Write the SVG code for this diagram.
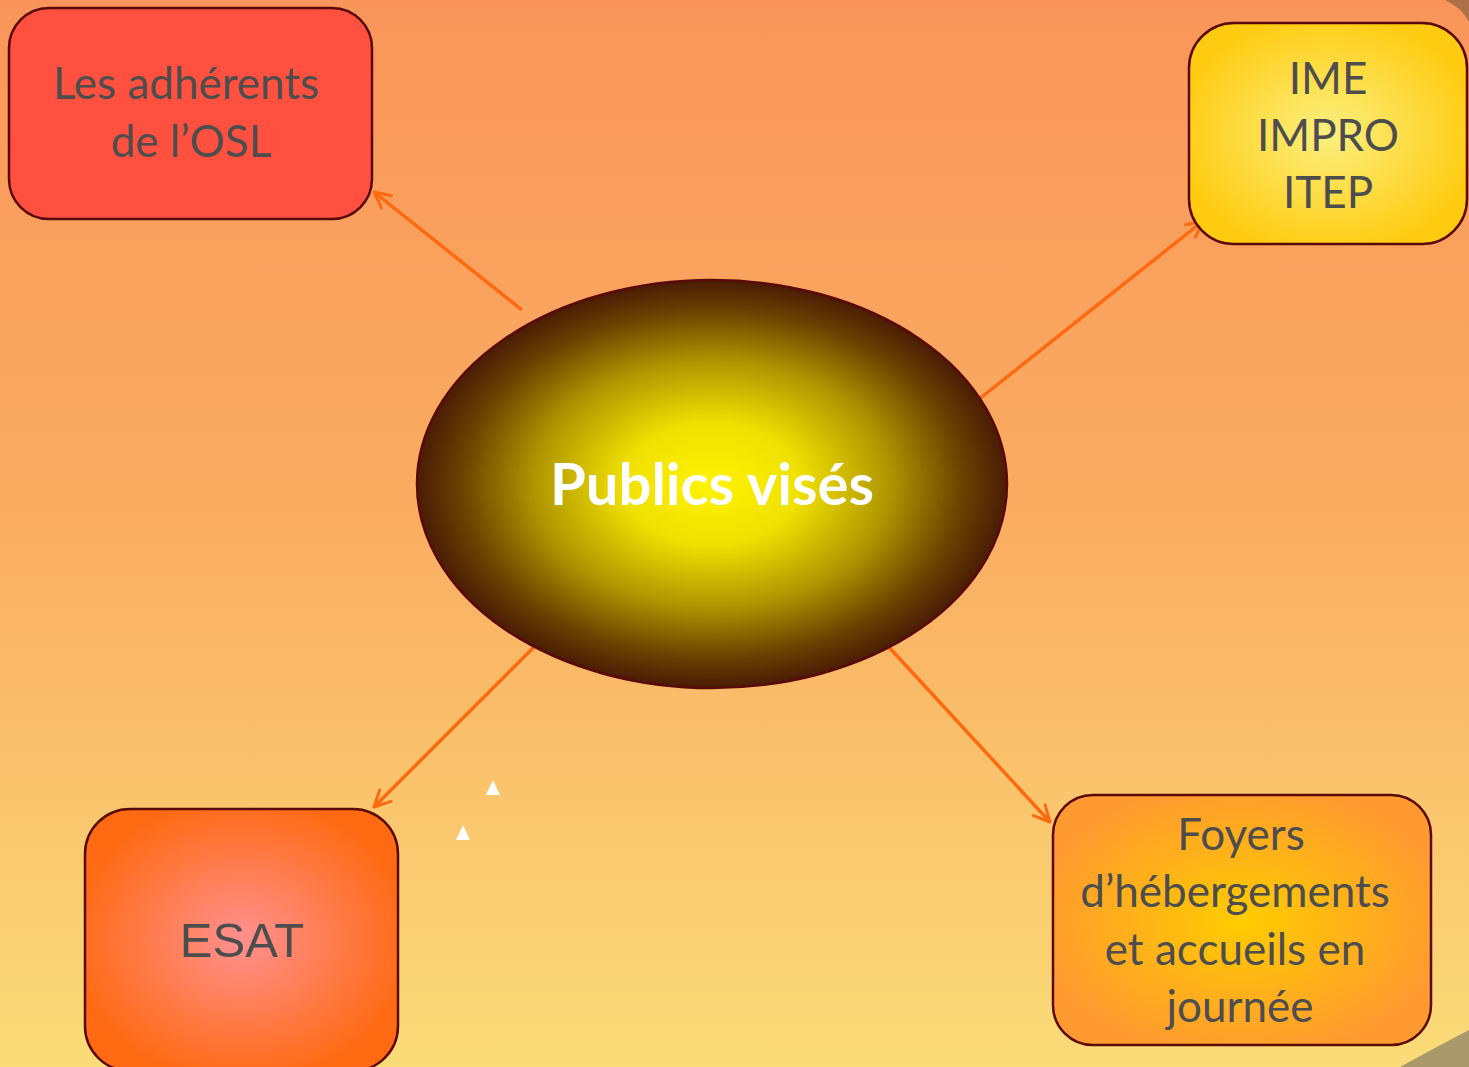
<svg xmlns="http://www.w3.org/2000/svg" width="1469" height="1067" viewBox="0 0 1469 1067">
<defs>
<linearGradient id="bg" x1="0" y1="0" x2="0" y2="1">
<stop offset="0" stop-color="#F9955A"/>
<stop offset="0.5" stop-color="#FAAE62"/>
<stop offset="1" stop-color="#FADC78"/>
</linearGradient>
<radialGradient id="gEll" cx="0.5" cy="0.5" r="0.5">
<stop offset="0" stop-color="#FFF400"/>
<stop offset="0.3" stop-color="#F0E000"/>
<stop offset="0.6" stop-color="#B09600"/>
<stop offset="0.85" stop-color="#6A4200"/>
<stop offset="1" stop-color="#4A1C05"/>
</radialGradient>
<radialGradient id="gIme" cx="0.5" cy="0.5" r="0.55">
<stop offset="0" stop-color="#FBF080"/>
<stop offset="1" stop-color="#FFCB10"/>
</radialGradient>
<radialGradient id="gEsat" cx="0.5" cy="0.5" r="0.55">
<stop offset="0" stop-color="#FF9090"/>
<stop offset="1" stop-color="#FF6A12"/>
</radialGradient>
<radialGradient id="gFoy" cx="0.5" cy="0.5" r="0.55">
<stop offset="0" stop-color="#FFCC00"/>
<stop offset="1" stop-color="#FF9A30"/>
</radialGradient>
<marker id="arr" viewBox="0 0 20 20" refX="18" refY="10" markerWidth="20" markerHeight="20" markerUnits="userSpaceOnUse" orient="auto">
<path d="M2,2 L18,10 L2,18" fill="none" stroke="#FF6A10" stroke-width="3" stroke-linecap="round" stroke-linejoin="round"/>
</marker>
<style>
.box{stroke:#5A0A0A;stroke-width:2.5}
.lbl{font-family:Lato,"Open Sans","Liberation Sans",sans-serif;font-size:44px;fill:#4D4D4D;text-anchor:middle}
.conn{stroke:#FF6A10;stroke-width:3.5;fill:none;marker-end:url(#arr)}
</style>
</defs>
<rect x="0" y="0" width="1469" height="1067" fill="url(#bg)"/>
<path d="M1400,1067 Q1440,1045 1469,1030 L1469,1067 Z" fill="#A89A6A"/>
<path d="M1445,0 Q1462,8 1469,22 L1469,0 Z" fill="#7A5A40" opacity="0.6"/>
<g id="connectors">
<line class="conn" x1="522" y1="310" x2="374" y2="192"/>
<line class="conn" x1="978" y1="400" x2="1203" y2="221"/>
<line class="conn" x1="538" y1="643" x2="374" y2="807"/>
<line class="conn" x1="887" y1="645" x2="1050" y2="822"/>
</g>
<g id="node-osl">
<rect class="box" x="9" y="8" width="363" height="211" rx="40" fill="#FF5040"/>
<text class="lbl" x="186" y="99">Les adhérents</text>
<text class="lbl" x="191" y="157">de l’OSL</text>
</g>
<g id="node-ime">
<rect class="box" x="1189" y="23" width="278" height="221" rx="45" fill="url(#gIme)"/>
<text class="lbl" x="1328" y="94">IME</text>
<text class="lbl" x="1328" y="151">IMPRO</text>
<text class="lbl" x="1328" y="208">ITEP</text>
</g>
<g id="node-center">
<ellipse cx="712" cy="484" rx="295" ry="204" fill="url(#gEll)" stroke="#5A0A0A" stroke-width="2.5"/>
<text x="712" y="505" font-family="Lato,'Open Sans',sans-serif" font-weight="bold" font-size="58" fill="#FFFFFF" text-anchor="middle">Publics visés</text>
</g>
<g id="node-esat">
<rect class="box" x="85" y="809" width="313" height="262" rx="45" fill="url(#gEsat)"/>
<text x="242" y="957" font-family="'Liberation Sans',Arial,sans-serif" font-size="49" fill="#4D4D4D" text-anchor="middle">ESAT</text>
</g>
<g id="node-foyers">
<rect class="box" x="1053" y="795" width="378" height="250" rx="40" fill="url(#gFoy)"/>
<text class="lbl" x="1241" y="850">Foyers</text>
<text class="lbl" x="1235" y="907">d’hébergements</text>
<text class="lbl" x="1235" y="965">et accueils en</text>
<text class="lbl" x="1240" y="1022">journée</text>
</g>
<g id="marks">
<polygon points="493,780 486,795 500,795" fill="#FFFFFF"/>
<polygon points="463,825 456,840 470,840" fill="#FFFFFF"/>
</g>
</svg>
